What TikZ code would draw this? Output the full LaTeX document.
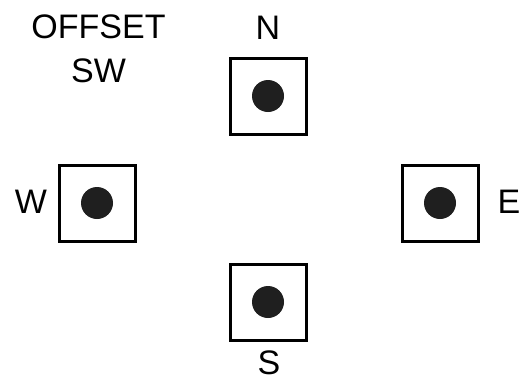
\documentclass[tikz,border=0pt]{standalone}
\usepackage{fontspec}
\setmainfont{Liberation Sans}
\begin{document}
\begin{tikzpicture}[x=1pt,y=-1pt,
  padbox/.style={draw=black,line width=3pt,minimum size=76pt,inner sep=0pt},
  dot/.style={circle,fill=black!88,minimum size=32pt,inner sep=0pt},
  lbl/.style={inner sep=0pt,font=\fontsize{34}{40}\selectfont}]
\useasboundingbox (0,0) rectangle (524,381);
\node[padbox] (bn) at (268,96) {};
\node[padbox] (bw) at (97,203) {};
\node[padbox] (be) at (440,203) {};
\node[padbox] (bs) at (268,302) {};
\node[dot] (dn) at (bn.center) {};
\node[dot] (dw) at (bw.center) {};
\node[dot] (de) at (be.center) {};
\node[dot] (ds) at (bs.center) {};
\node[lbl] (off) at (98.5,27) {OFFSET};
\node[lbl] (sw) at (98.5,71) {SW};
\node[lbl] (ln) at (268,28) {N};
\node[lbl] (lw) at (31,202) {W};
\node[lbl] (le) at (509,202) {E};
\node[lbl] (ls) at (269,363) {S};
\end{tikzpicture}
\end{document}
